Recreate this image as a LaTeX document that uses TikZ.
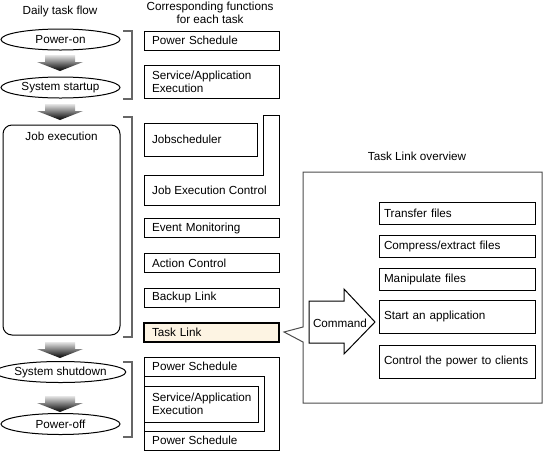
\documentclass[tikz,border=0pt]{standalone}
\usepackage{fontspec}
\setmainfont{Liberation Sans}
\usetikzlibrary{shapes.geometric, positioning}
\definecolor{linkfill}{HTML}{FDF4E3}
\tikzset{
	every node/.style = {font = \fontsize{11.7}{13}\selectfont},
	flow/.style = {draw, ellipse, minimum width = 119pt, minimum height = 21pt, inner sep = 0pt, line width = 1pt},
	func/.style = {draw, rectangle, minimum height = 19pt, inner xsep = 8pt, inner ysep = 0pt, text width = 119pt, align = left, line width = 1pt},
	item/.style = {draw, rectangle, minimum height = 22pt, inner xsep = 5pt, inner ysep = 0pt, text width = 146pt, align = left, line width = 1pt},
	bracket/.style = {draw = black!60, line width = 1.2pt},
	flowarrow/.style = {top color = black!10, bottom color = black},
}

\begin{document}
\begin{tikzpicture}[x = 1pt, y = -1pt]
	\useasboundingbox (0, 0) rectangle (544, 451);

	% headings
	\node (daily) at (60, 11) {Daily task flow};
	\node [align = center] (corr) at (210, 13) {Corresponding functions\\for each task};
	\node (overview) at (417, 156) {Task Link overview};

	% daily task flow
	\node [flow] (poweron) at (60.5, 39.5) {Power-on};
	\node [flow] (startup) at (60.5, 87.5) {System startup};
	\node [draw, rounded corners = 9pt, minimum width = 117pt, minimum height = 210pt, line width = 1pt] (jobexec) at (61.5, 230) {};
	\node [below = 4pt of jobexec.north] (jobtext) {Job execution};
	\node [flow] (shutdown) at (60.5, 372) {System shutdown};
	\node [flow] (poweroff) at (60.5, 424) {Power-off};
	\foreach \y in {55, 104, 342, 396}
		\shade [flowarrow] (45, \y) -- (75, \y) -- (75, \y + 7) -- (83, \y + 7) -- (60, \y + 16) -- (37, \y + 7) -- (45, \y + 7) -- cycle;

	\draw [bracket] (123, 31) -| (132, 99) -- (123, 99);
	\draw [bracket] (123, 117) -| (132, 337) -- (123, 337);
	\draw [bracket] (123, 362) -| (132, 437) -- (123, 437);

	% functions
	\node [func] (ps1) at (211.5, 40.5) {Power Schedule};
	\node [func, minimum height = 33pt] (sae1) at (211.5, 81.5) {Service/Application\\Execution};
	\node [func, text width = 97pt, minimum height = 33pt] (jobsched) at (200.5, 139.5) {Jobscheduler};
	\draw [line width = 1pt] (144, 175) -- (263, 175) -- (263, 115) -- (279, 115) -- (279, 205) -- (144, 205) -- cycle;
	\node [anchor = west, inner sep = 0pt] (jec) at (152, 190) {Job Execution Control};
	\node [func] (evmon) at (211.5, 228) {Event Monitoring};
	\node [func] (actctl) at (211.5, 263) {Action Control};
	\node [func] (backup) at (211.5, 297.5) {Backup Link};
	\node [func, fill = linkfill, line width = 1.8pt] (tasklink) at (211.5, 332.5) {Task Link};

	\draw [line width = 1pt] (144, 357) rectangle (279, 450);
	\draw [line width = 1pt] (144, 376) -| (264, 431) -- (144, 431);
	\node [anchor = west, inner sep = 0pt] (ps2) at (152, 366.5) {Power Schedule};
	\node [func, text width = 98pt, minimum height = 36pt] (sae2) at (201, 404) {Service/Application\\Execution};
	\node [anchor = west, inner sep = 0pt] (ps3) at (152, 440.5) {Power Schedule};

	% task link overview
	\coordinate (tip) at (284, 332);
	\draw [draw = black!70, line width = 1pt] (303, 327) -- (303, 172) -- (542, 172) -- (542, 403) -- (303, 403) -- (303, 342) -- (tip) -- cycle;
	\draw [line width = 1pt] (309, 301) -- (344, 301) -- (344, 289) -- (375, 322) -- (344, 354) -- (344, 343) -- (309, 343) -- cycle;
	\node (command) at (340, 323) {Command};
	\node [item] (transfer) at (457, 213.5) {Transfer files};
	\node [item] (compress) at (457, 246.5) {Compress/extract files};
	\node [item] (manip) at (457, 279) {Manipulate files};
	\node [item, minimum height = 33pt] (start) at (457, 316.5) {Start an application};
	\node [item, minimum height = 33pt] (power) at (457, 361.5) {Control the power to clients};
\end{tikzpicture}
\end{document}
